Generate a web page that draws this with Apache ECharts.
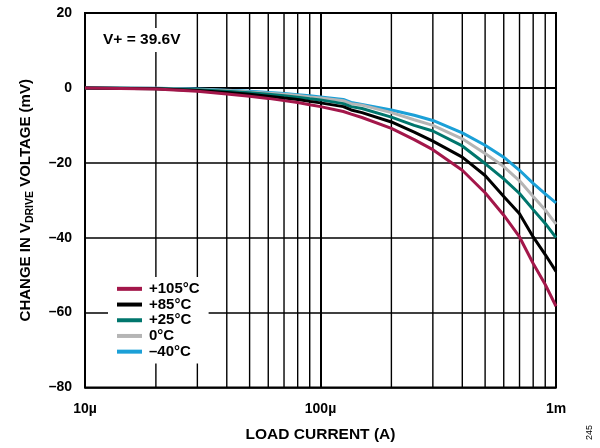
<!DOCTYPE html>
<html><head><meta charset="utf-8">
<script src="https://cdn.jsdelivr.net/npm/echarts@6/dist/echarts.min.js"></script>
<style>html,body{margin:0;padding:0;background:#fff}#c{width:600px;height:448px}</style>
</head><body><div id="c"></div>
<script>
// load current in µA
var currentUA = [10,20,30,40,50,60,70,80,90,100,125,135,150,200,250,300,400,500,600,700,800,900,1000];
var t105 = [0,-0.3,-0.9,-1.6,-2.2,-2.8,-3.4,-3.9,-4.5,-5.0,-6.3,-7.0,-7.9,-10.8,-13.8,-16.5,-22.0,-28.0,-34.0,-39.8,-46.9,-52.5,-58.3];
var t85  = [0,-0.2,-0.7,-1.2,-1.7,-2.2,-2.7,-3.1,-3.6,-4.0,-5.0,-5.9,-6.6,-9.1,-11.8,-14.2,-18.5,-23.4,-29.0,-33.6,-39.8,-44.5,-49.0];
var t25  = [0,-0.15,-0.5,-0.9,-1.3,-1.7,-2.1,-2.5,-2.9,-3.2,-4.2,-5.0,-5.5,-7.8,-10.0,-11.5,-15.5,-20.2,-24.3,-28.2,-32.5,-36.2,-40.0];
var t0   = [0,-0.1,-0.4,-0.7,-1.1,-1.4,-1.7,-2.0,-2.4,-2.7,-3.4,-4.2,-4.6,-6.6,-8.5,-10.0,-13.6,-17.5,-21.0,-24.8,-29.0,-32.6,-36.4];
var tm40 = [0,-0.1,-0.3,-0.6,-0.9,-1.2,-1.5,-1.8,-2.1,-2.4,-3.1,-3.9,-4.4,-5.9,-7.3,-8.7,-12.0,-15.3,-18.5,-22.0,-25.5,-28.3,-30.7];
var seriesNames = ['+105°C','+85°C','+25°C','0°C','–40°C'];
var seriesColors = ['#A3174A','#000000','#00766D','#B5B5B5','#1BA0D7'];
var xTickLabels = ['10µ','100µ','1m'];
var minorGridA = [2e-5,3e-5,4e-5,5e-5,6e-5,7e-5,8e-5,9e-5,2e-4,3e-4,4e-4,5e-4,6e-4,7e-4,8e-4,9e-4];
var yMin = -80, yMax = 20, yStep = 20;

var allData = [t105,t85,t25,t0,tm40];
function pairs(arr){ return currentUA.map(function(c,i){ return [c*1e-6, arr[i]]; }); }

var gridData = [];
minorGridA.forEach(function(v){ gridData.push([v, yMin], [v, yMax], [v, '-']); });

var FONT = 'Liberation Sans, Arial, sans-serif';
var series = [{
  name: 'minorGrid', type: 'line', data: gridData, symbol: 'none', silent: true, z: 1,
  connectNulls: false, animation: false,
  lineStyle: {width: 1.4, color: '#000'}
}];
allData.forEach(function(d, i){
  series.push({
    name: seriesNames[i], type: 'line', data: pairs(d), symbol: 'none', smooth: false,
    lineStyle: {width: 3, color: seriesColors[i]}, itemStyle: {color: seriesColors[i]},
    z: 10 - i, animation: false
  });
});

var chart = echarts.init(document.getElementById('c'));
chart.setOption({
  animation: false,
  backgroundColor: '#fff',
  tooltip: {show: false},
  grid: {left: 85, right: 44, top: 13, bottom: 60.5, show: true, borderColor: '#000', borderWidth: 2, backgroundColor: 'transparent'},
  title: {
    text: 'V+ = 39.6V', left: 98, top: 28, padding: [4,5,4,5], backgroundColor: '#fff',
    textStyle: {fontFamily: FONT, fontWeight: 'bold', fontSize: 15.5, color: '#000'}
  },
  legend: {
    data: seriesNames, orient: 'vertical', left: 108, top: 277,
    backgroundColor: '#fff', padding: [4, 9, 4, 9], itemGap: 0,
    itemWidth: 25, itemHeight: 4, icon: 'rect',
    textStyle: {fontFamily: FONT, fontWeight: 'bold', fontSize: 15, color: '#000', lineHeight: 15.7, padding: [0,0,0,2]},
    selectedMode: false
  },
  xAxis: {
    type: 'log', logBase: 10, min: 1e-5, max: 1e-3,
    name: 'LOAD CURRENT (A)', nameLocation: 'middle', nameGap: 39,
    nameTextStyle: {fontFamily: FONT, fontWeight: 'bold', fontSize: 15.5, color: '#000'},
    axisLine: {show: true, lineStyle: {color: '#000', width: 2}},
    axisTick: {show: false},
    splitLine: {show: true, lineStyle: {color: '#000', width: 2}},
    axisLabel: {
      margin: 15, fontFamily: FONT, fontWeight: 'bold', fontSize: 14, color: '#000',
      formatter: function(v){ var k = Math.round(Math.log10(v)) + 5; return xTickLabels[k] || ''; }
    }
  },
  yAxis: {
    type: 'value', min: yMin, max: yMax, interval: yStep,
    name: 'CHANGE IN V{s|DRIVE} VOLTAGE (mV)', nameLocation: 'middle', nameGap: 49, nameRotate: 90,
    nameTextStyle: {fontFamily: FONT, fontWeight: 'bold', fontSize: 15, color: '#000', lineHeight: 20,
      rich: {s: {fontFamily: FONT, fontWeight: 'bold', fontSize: 10.5, color: '#000', lineHeight: 10, verticalAlign: 'bottom'}}},
    axisLine: {show: true, lineStyle: {color: '#000', width: 2}},
    axisTick: {show: false},
    splitLine: {show: true, lineStyle: {color: '#000', width: 1.5}},
    axisLabel: {
      margin: 13, fontFamily: FONT, fontWeight: 'bold', fontSize: 14, color: '#000',
      formatter: function(v){ return v < 0 ? '–' + (-v) : String(v); }
    }
  },
  graphic: [{
    type: 'text', x: 585, y: 440, rotation: Math.PI/2,
    style: {text: '245', fontFamily: FONT, fontSize: 9, fill: '#000', textAlign: 'left', textVerticalAlign: 'top'}
  }],
  series: series
});
</script>
</body></html>
